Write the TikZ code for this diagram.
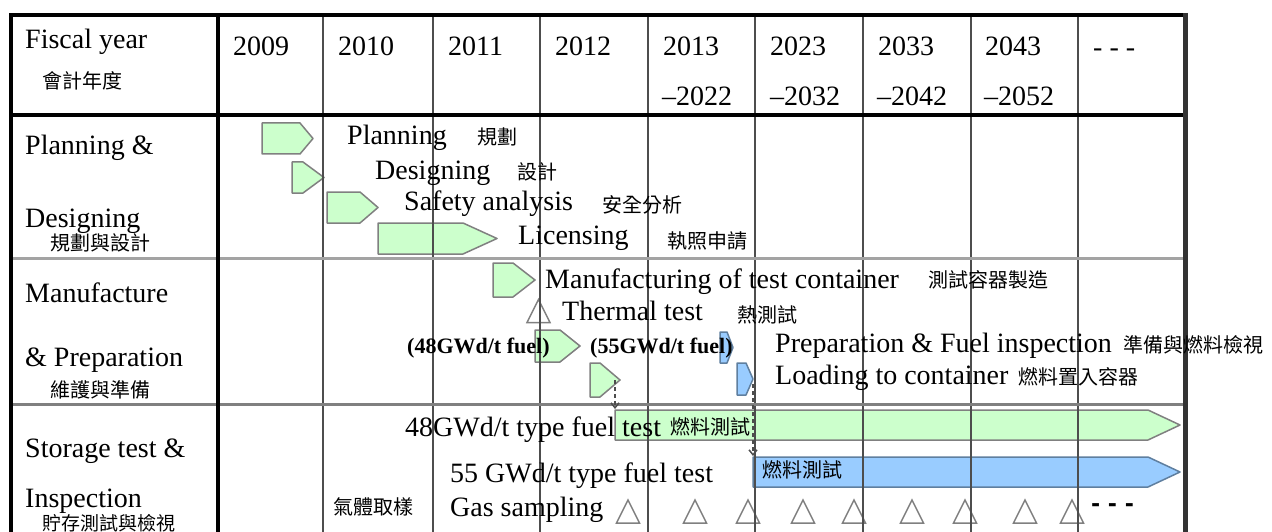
\documentclass[tikz,border=0pt]{standalone}
\usepackage{fontspec}
\setmainfont{Liberation Serif}
\newfontfamily\cjk{Noto Sans CJK TC}
\newfontfamily\dvs{DejaVu Sans}
\usetikzlibrary{arrows.meta}

\definecolor{gfill}{HTML}{CCFFCC}
\definecolor{gedge}{HTML}{808080}
\definecolor{bfill}{HTML}{99CCFF}
\definecolor{bedge}{HTML}{5F7F9F}
\definecolor{gridc}{HTML}{4D4D4D}
\definecolor{rowc}{HTML}{8C8C8C}
\definecolor{framec}{HTML}{333333}

% bar with a pointed right end: style, left x, shoulder x, tip x, top y, bottom y
\newcommand\ganttbar[6]{%
  \draw[#1] (#2,#5) -- (#3,#5) -- (#4,{(#5+#6)/2}) -- (#3,#6) -- (#2,#6) -- cycle;}

\tikzset{
  en/.style={anchor=base west, inner sep=0pt, font=\fontsize{28}{30}\selectfont},
  zh/.style={anchor=west, inner sep=0pt, font=\cjk\fontsize{20}{22}\selectfont},
  fuel/.style={anchor=base west, inner sep=0pt, font=\bfseries\fontsize{22}{24}\selectfont},
  greenbar/.style={fill=gfill, draw=gedge, line width=1.5pt, line join=round},
  bluebar/.style={fill=bfill, draw=bedge, line width=1.5pt, line join=round},
  milestone/.style={fill=white, draw=gedge, line width=1.5pt, line join=miter},
  tri/.pic={\draw[milestone] (-11.5,11.5) -- (0,-11.5) -- (11.5,11.5) -- cycle;},
  gridline/.style={draw=gridc, line width=2pt},
  rowline/.style={draw=rowc, line width=3pt},
  heavy/.style={draw=black, line width=4pt},
  handover/.style={draw=gridc, line width=1.5pt, dash pattern=on 4pt off 3pt,
    -{Straight Barb[length=5pt, width=8pt, line width=1.5pt]}}
}

\begin{document}
\begin{tikzpicture}[x=1pt, y=-1pt]
\useasboundingbox (0,0) rectangle (1272,532);
\fill[white] (0,0) rectangle (1272,532);

% ---- schedule bars ----
\ganttbar{greenbar}{262}{300}{313}{123}{154}
\ganttbar{greenbar}{292}{303}{324}{162}{193}
\ganttbar{greenbar}{327}{360}{378}{192}{223}
\ganttbar{greenbar}{378}{463}{497}{223}{254}
\ganttbar{greenbar}{493}{513}{535}{263}{297}
\ganttbar{greenbar}{535}{560}{580}{330}{362}
\ganttbar{greenbar}{590}{600}{620}{363}{397}
\ganttbar{bluebar}{720}{727}{733}{332}{363}
\ganttbar{bluebar}{737}{746}{753}{363}{395}
\ganttbar{greenbar}{615}{1148}{1180}{410}{440}
\ganttbar{bluebar}{753}{1148}{1180}{457}{487}

% ---- milestones ----
\pic at (538.5,311) {tri};
\foreach \mx in {628,695,748,803,854,912,965,1025,1072}
  \pic at (\mx,511.5) {tri};

% ---- table grid ----
\foreach \gx in {323,433,540,648,755,863,971,1078}
  \draw[gridline] (\gx,15) -- (\gx,532);
\draw[rowline, draw=rowc!80] (11,258) -- (1185,258);
\draw[rowline, draw=rowc!110] (11,404) -- (1185,404);
\draw[heavy] (11,115) -- (1185,115);
\draw[heavy] (218,15) -- (218,532);
\draw[heavy] (11,532) -- (11,15) -- (1188,15);
\draw[draw=framec, line width=5pt] (1185.5,13) -- (1185.5,532);

% ---- hand-over links ----
\coordinate (fuel48) at (615,380);
\coordinate (test48) at (615,409);
\coordinate (load55) at (753,384);
\coordinate (test55) at (753,456);
\draw[handover] (fuel48) -- (test48);
\draw[handover] (load55) -- (test55);

% ---- header ----
\node[en] (fy) at (25,49) {Fiscal year};
\node[zh] (fyzh) at (42,81) {會計年度};
\node[en] (y09) at (233,56) {2009};
\node[en] (y10) at (338,56) {2010};
\node[en] (y11) at (448,56) {2011};
\node[en] (y12) at (555,56) {2012};
\node[en] (y13) at (663,56) {2013};
\node[en] (y22) at (662,106) {–2022};
\node[en] (y23) at (770,56) {2023};
\node[en] (y32) at (770,106) {–2032};
\node[en] (y33) at (878,56) {2033};
\node[en] (y42) at (877,106) {–2042};
\node[en] (y43) at (985,56) {2043};
\node[en] (y52) at (984,106) {–2052};
\node[en] (ymore) at (1093,57) {- - -};

% ---- row titles ----
\node[en] (r1a) at (25,155) {Planning \&};
\node[en] (r1b) at (25,227) {Designing};
\node[zh] (r1zh) at (50,243) {規劃與設計};
\node[en] (r2a) at (25,302) {Manufacture};
\node[en] (r2b) at (25,366) {\& Preparation};
\node[zh] (r2zh) at (50,390) {維護與準備};
\node[en] (r3a) at (25,457) {Storage test \&};
\node[en] (r3b) at (25,507) {Inspection};
\node[zh, font=\cjk\fontsize{19}{21}\selectfont] (r3zh) at (42,523) {貯存測試與檢視};

% ---- task labels ----
\node[en] (t1) at (347,145) {Planning};
\node[zh] (t1zh) at (477,137) {規劃};
\node[en] (t2) at (375,179) {Designing};
\node[zh] (t2zh) at (517,172) {設計};
\node[en] (t3) at (404,210) {Safety analysis};
\node[zh] (t3zh) at (602,205) {安全分析};
\node[en] (t4) at (518,244) {Licensing};
\node[zh] (t4zh) at (667,241) {執照申請};
\node[en] (t5) at (545,288) {Manufacturing of test container};
\node[zh] (t5zh) at (928,280) {測試容器製造};
\node[en] (t6) at (562,320) {Thermal test};
\node[zh] (t6zh) at (737,315) {熱測試};
\node[fuel] (f48) at (407,353) {(48GWd/t fuel)};
\node[fuel] (f55) at (590,353) {(55GWd/t fuel)};
\node[en] (t7) at (775,352) {Preparation \& Fuel inspection};
\node[zh] (t7zh) at (1123,345) {準備與燃料檢視};
\node[en] (t8) at (775,384) {Loading to container};
\node[zh] (t8zh) at (1018,377) {燃料置入容器};
\node[en] (t9) at (405,436) {48GWd/t type fuel test};
\node[zh] (t9zh) at (670,427) {燃料測試};
\node[en] (t10) at (450,482) {55 GWd/t type fuel test};
\node[zh] (t10zh) at (762,470) {燃料測試};
\node[en] (t11) at (450,516) {Gas sampling};
\node[zh] (t11zh) at (333,507) {氣體取樣};
\node[anchor=base west, inner sep=0pt, font=\dvs\bfseries\fontsize{22}{24}\selectfont]
  (gmore) at (1091,511) {- - -};
\end{tikzpicture}
\end{document}
